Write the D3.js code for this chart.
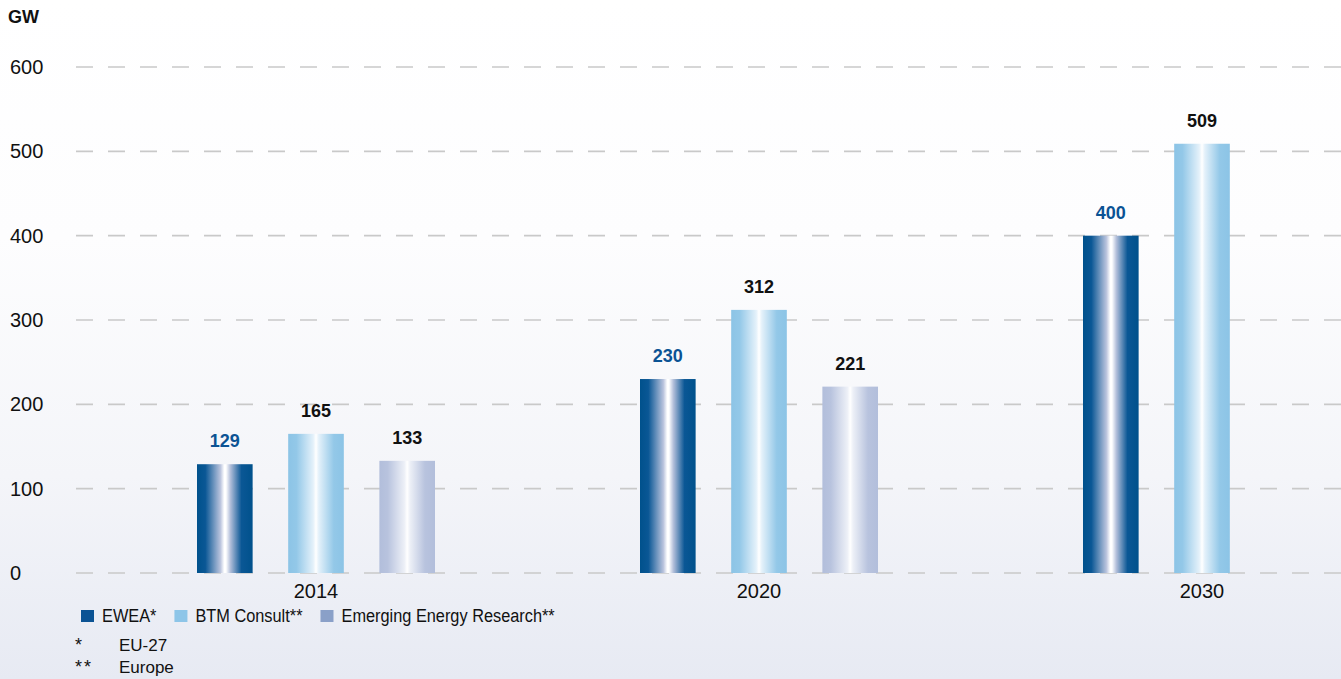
<!DOCTYPE html>
<html><head><meta charset="utf-8">
<script src="https://cdn.jsdelivr.net/npm/d3@7"></script>
<style>html,body{margin:0;padding:0;overflow:hidden;background:#fff}</style>
</head><body>
<svg id="chart" width="1341" height="679"></svg>
<script>
// ---- data ----
const years = ["2014", "2020", "2030"];
const seriesNames = ["EWEA*", "BTM Consult**", "Emerging Energy Research**"];
const eweaValues = [129, 230, 400];
const btmValues = [165, 312, 509];
const eerValues = [133, 221, null];
const yTicks = [0, 100, 200, 300, 400, 500, 600];
const footnoteMarks = ["*", "**"];
const footnoteTexts = ["EU-27", "Europe"];

const seriesValues = [eweaValues, btmValues, eerValues];
const W = 1341, H = 679;
const svg = d3.select("#chart");
const defs = svg.append("defs");

// background gradient
const bg = defs.append("linearGradient").attr("id", "bg").attr("x1", 0).attr("y1", 0).attr("x2", 0).attr("y2", 1);
[[0, "#ffffff"], [0.35, "#fdfdfe"], [0.7, "#f4f5f9"], [1, "#e7eaf3"]].forEach(([o, c]) => bg.append("stop").attr("offset", o).attr("stop-color", c));
svg.append("rect").attr("width", W).attr("height", H).attr("fill", "url(#bg)");

// bar gradients
const grads = [
  [[0, "#00518c"], [0.15, "#0a5795"], [0.42, "#b9c3dd"], [0.49, "#ffffff"], [0.52, "#ffffff"], [0.6, "#b3bfda"], [0.8, "#0a5795"], [1, "#00518c"]],
  [[0, "#8cc4e6"], [0.15, "#93c8e8"], [0.45, "#e4f1fa"], [0.5, "#ffffff"], [0.55, "#e4f1fa"], [0.82, "#93c8e8"], [1, "#8cc4e6"]],
  [[0, "#b2bedb"], [0.15, "#b8c3de"], [0.45, "#edf0f7"], [0.5, "#ffffff"], [0.55, "#edf0f7"], [0.82, "#b8c3de"], [1, "#b2bedb"]]
];
grads.forEach((stops, i) => {
  const g = defs.append("linearGradient").attr("id", "g" + i).attr("x1", 0).attr("y1", 0).attr("x2", 1).attr("y2", 0);
  stops.forEach(([o, c]) => g.append("stop").attr("offset", o).attr("stop-color", c));
});
const legendColors = ["#0b5394", "#8dc5e8", "#8aa0c8"];
const labelColors = ["#0b5394", "#111111", "#111111"];

// scales
const y = d3.scaleLinear().domain([0, 600]).range([573, 67]);
const x0 = d3.scalePoint().domain(years).range([316, 1202]);
const x1 = d3.scaleBand().domain(seriesNames).range([-119, 119]).paddingInner(0.39).paddingOuter(0);

// gridlines
svg.append("g").selectAll("line").data(yTicks).join("line")
  .attr("x1", 76).attr("x2", W).attr("y1", d => y(d)).attr("y2", d => y(d))
  .attr("stroke", "#c9c9c9").attr("stroke-width", 1.6).attr("stroke-dasharray", "17 15");

// y tick labels
svg.append("g").selectAll("text").data(yTicks).join("text")
  .attr("x", 10).attr("y", d => y(d) + 7)
  .attr("font-family", "Liberation Sans, Arial, sans-serif").attr("font-size", 20).attr("fill", "#111")
  .text(d => d);

svg.append("text").attr("x", 8).attr("y", 23).attr("font-family", "Liberation Sans, Arial, sans-serif")
  .attr("font-weight", "bold").attr("font-size", 18).attr("fill", "#111").text("GW");

// bars
const flat = [];
years.forEach((yr, i) => seriesNames.forEach((s, j) => {
  const v = seriesValues[j][i];
  if (v != null) flat.push({ yr, s, j, v });
}));
const bars = svg.append("g");
bars.selectAll("rect").data(flat).join("rect")
  .attr("x", d => x0(d.yr) + x1(d.s)).attr("width", x1.bandwidth())
  .attr("y", d => y(d.v)).attr("height", d => y(0) - y(d.v))
  .attr("fill", d => "url(#g" + d.j + ")");
bars.selectAll("text").data(flat).join("text")
  .attr("x", d => x0(d.yr) + x1(d.s) + x1.bandwidth() / 2).attr("y", d => y(d.v) - 17)
  .attr("text-anchor", "middle").attr("font-family", "Liberation Sans, Arial, sans-serif")
  .attr("font-weight", "bold").attr("font-size", 18).attr("fill", d => labelColors[d.j])
  .text(d => d.v);

// x labels
svg.append("g").selectAll("text").data(years).join("text")
  .attr("x", d => x0(d)).attr("y", 598).attr("text-anchor", "middle")
  .attr("font-family", "Liberation Sans, Arial, sans-serif").attr("font-size", 20).attr("fill", "#111")
  .text(d => d);

// legend (condensed look via horizontal scaling)
const lg = svg.append("g");
let lx = 81;
const squeeze = 0.86;
seriesNames.forEach((s, i) => {
  lg.append("rect").attr("x", lx).attr("y", 610).attr("width", 13).attr("height", 12).attr("fill", legendColors[i]);
  const t = lg.append("text").attr("transform", `translate(${lx + 21},622) scale(${squeeze},1)`)
    .attr("font-family", "Liberation Sans, Arial, sans-serif").attr("font-size", 19)
    .attr("fill", "#111").text(s);
  lx = lx + 21 + t.node().getComputedTextLength() * squeeze + 18;
});

// footnotes
footnoteMarks.forEach((m, i) => {
  const yy = 651 + i * 22;
  svg.append("text").attr("x", 75).attr("y", yy).attr("font-family", "Liberation Sans, Arial, sans-serif")
    .attr("font-size", 18).attr("fill", "#111").attr("letter-spacing", 2).text(m);
  svg.append("text").attr("x", 119).attr("y", yy).attr("font-family", "Liberation Sans, Arial, sans-serif")
    .attr("font-size", 17).attr("fill", "#111").text(footnoteTexts[i]);
});
</script>
</body></html>
